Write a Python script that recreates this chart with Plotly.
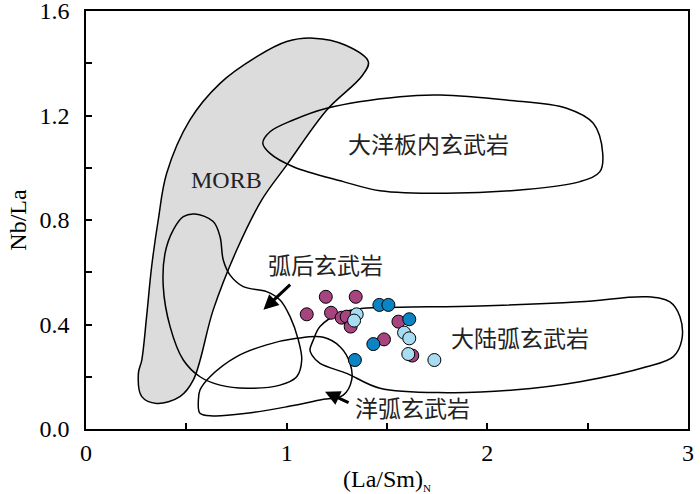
import plotly.graph_objects as go

# ---- field outlines (data coordinates) ----
morb_x = [1.133, 1.291, 1.407, 1.375, 1.200, 1.000, 0.876, 0.751, 0.634, 0.535, 0.468, 0.352, 0.278, 0.261,
          0.278, 0.302, 0.327, 0.360, 0.402, 0.518, 0.668, 0.851, 1.000]
morb_y = [1.496, 1.470, 1.406, 1.351, 1.221, 1.010, 0.877, 0.685, 0.456, 0.188, 0.124, 0.098, 0.124, 0.213,
          0.264, 0.430, 0.621, 0.800, 0.979, 1.183, 1.323, 1.425, 1.483]

oib_x = [0.881, 0.917, 1.033, 1.200, 1.565, 1.764, 2.096, 2.395, 2.528, 2.575, 2.561, 2.462, 2.163, 1.797,
         1.465, 1.282, 1.033, 0.917]
oib_y = [1.094, 1.138, 1.183, 1.228, 1.272, 1.278, 1.259, 1.228, 1.170, 1.055, 0.985, 0.947, 0.915, 0.902,
         0.912, 0.947, 1.004, 1.055]

bab_x = [0.543, 0.634, 0.668, 0.684, 0.718, 0.784, 0.900, 0.967, 1.017, 1.058, 1.075, 1.050, 0.967, 0.801,
         0.668, 0.568, 0.485, 0.419, 0.385, 0.394, 0.435, 0.485]
bab_y = [0.823, 0.794, 0.736, 0.647, 0.589, 0.545, 0.526, 0.494, 0.430, 0.341, 0.264, 0.200, 0.168, 0.156,
         0.168, 0.200, 0.264, 0.392, 0.545, 0.673, 0.762, 0.813]

oab_x = [0.560, 0.568, 0.634, 0.801, 1.000, 1.166, 1.282, 1.324, 1.316, 1.266, 1.183, 1.050, 0.900, 0.751,
         0.618, 0.568]
oab_y = [0.111, 0.060, 0.050, 0.060, 0.085, 0.111, 0.130, 0.188, 0.251, 0.315, 0.351, 0.347, 0.322, 0.277,
         0.200, 0.149]

cab_x = [1.116, 1.133, 1.166, 1.266, 1.382, 1.565, 1.963, 2.462, 2.794, 2.910, 2.960, 2.969, 2.927, 2.794,
         2.462, 2.129, 1.797, 1.465, 1.299, 1.166, 1.126]
cab_y = [0.302, 0.341, 0.392, 0.443, 0.462, 0.466, 0.471, 0.487, 0.506, 0.487, 0.430, 0.341, 0.277, 0.238,
         0.181, 0.149, 0.139, 0.156, 0.213, 0.251, 0.283]

# ---- sample data ----
purple_x = [1.195, 1.344, 1.100, 1.221, 1.274, 1.299, 1.319, 1.557, 1.485, 1.626]
purple_y = [0.506, 0.506, 0.439, 0.445, 0.426, 0.430, 0.392, 0.411, 0.343, 0.281]

dark_x = [1.462, 1.507, 1.611, 1.432, 1.340]
dark_y = [0.475, 0.475, 0.420, 0.325, 0.264]

light_x = [1.349, 1.336, 1.585, 1.611, 1.606, 1.736]
light_y = [0.439, 0.415, 0.369, 0.347, 0.287, 0.264]

# ---- labels ----
x_tickvals = [0, 0.5, 1, 1.5, 2, 2.5, 3]
x_ticktext = ["0", "", "1", "", "2", "", "3"]
y_tickvals = [0, 0.2, 0.4, 0.6, 0.8, 1.0, 1.2, 1.4, 1.6]
y_ticktext = ["0.0", "", "0.4", "", "0.8", "", "1.2", "", "1.6"]

field_labels = ["MORB", "大洋板内玄武岩", "弧后玄武岩", "大陆弧玄武岩", "洋弧玄武岩"]
label_x = [0.698, 1.705, 1.195, 2.163, 1.625]
label_y = [0.955, 1.087, 0.621, 0.341, 0.073]

FONT = "Liberation Serif, Times New Roman, Noto Sans CJK SC, serif"


def closed(xs, ys):
    return xs + [xs[0]], ys + [ys[0]]


fig = go.Figure()

mx, my = closed(morb_x, morb_y)
fig.add_trace(go.Scatter(x=mx, y=my, mode="lines", fill="toself", fillcolor="#DCDCDC",
                         line=dict(color="black", width=1.5, shape="spline", smoothing=1.0),
                         hoverinfo="skip", showlegend=False))
for xs, ys in [(oib_x, oib_y), (bab_x, bab_y), (oab_x, oab_y), (cab_x, cab_y)]:
    cx, cy = closed(xs, ys)
    fig.add_trace(go.Scatter(x=cx, y=cy, mode="lines",
                             line=dict(color="black", width=1.5, shape="spline", smoothing=1.0),
                             hoverinfo="skip", showlegend=False))

for xs, ys, col in [(purple_x, purple_y, "#A6447F"), (dark_x, dark_y, "#0B84C4"), (light_x, light_y, "#A8DCF2")]:
    fig.add_trace(go.Scatter(x=xs, y=ys, mode="markers",
                             marker=dict(size=13, color=col, line=dict(color="black", width=1)),
                             showlegend=False))

for t, x, y in zip(field_labels, label_x, label_y):
    fig.add_annotation(x=x, y=y, text=t, showarrow=False,
                       font=dict(family=FONT, size=24 if t == "MORB" else 23, color="#222"))

# arrows
fig.add_annotation(x=0.884, y=0.456, ax=1.025, ay=0.558, xref="x", yref="y", axref="x", ayref="y",
                   text="", showarrow=True, arrowhead=2, arrowsize=1, arrowwidth=3, arrowcolor="black")
fig.add_annotation(x=1.191, y=0.143, ax=1.316, ay=0.098, xref="x", yref="y", axref="x", ayref="y",
                   text="", showarrow=True, arrowhead=2, arrowsize=1, arrowwidth=3, arrowcolor="black")

fig.update_layout(
    width=700, height=494,
    margin=dict(l=86, r=12, t=11, b=65),
    paper_bgcolor="white", plot_bgcolor="white",
    font=dict(family=FONT, size=24, color="black"),
    showlegend=False,
)
fig.update_xaxes(range=[0, 3], tickvals=x_tickvals, ticktext=x_ticktext, ticks="inside", ticklen=6,
                 tickwidth=1.5, tickcolor="black", showline=True, linecolor="black", linewidth=1.5,
                 mirror=True, showgrid=False, zeroline=False, automargin=False,
                 title=dict(text="(La/Sm)<sub><span style='font-size:11px'>N</span></sub>",
                            font=dict(size=24), standoff=8),
                 tickfont=dict(size=24), ticklabelstandoff=1, ticklabeloverflow="allow")
fig.update_yaxes(range=[0, 1.6], tickvals=y_tickvals, ticktext=y_ticktext, ticks="inside", ticklen=6,
                 tickwidth=1.5, tickcolor="black", showline=True, linecolor="black", linewidth=1.5,
                 mirror=True, showgrid=False, zeroline=False, automargin=False,
                 title=dict(text="Nb/La", font=dict(size=24), standoff=6),
                 tickfont=dict(size=24), ticklabelstandoff=10, ticklabeloverflow="allow")

fig.write_html("out.html", config={"displayModeBar": False},
               post_script="document.body.style.margin='0';document.body.style.padding='0';")
